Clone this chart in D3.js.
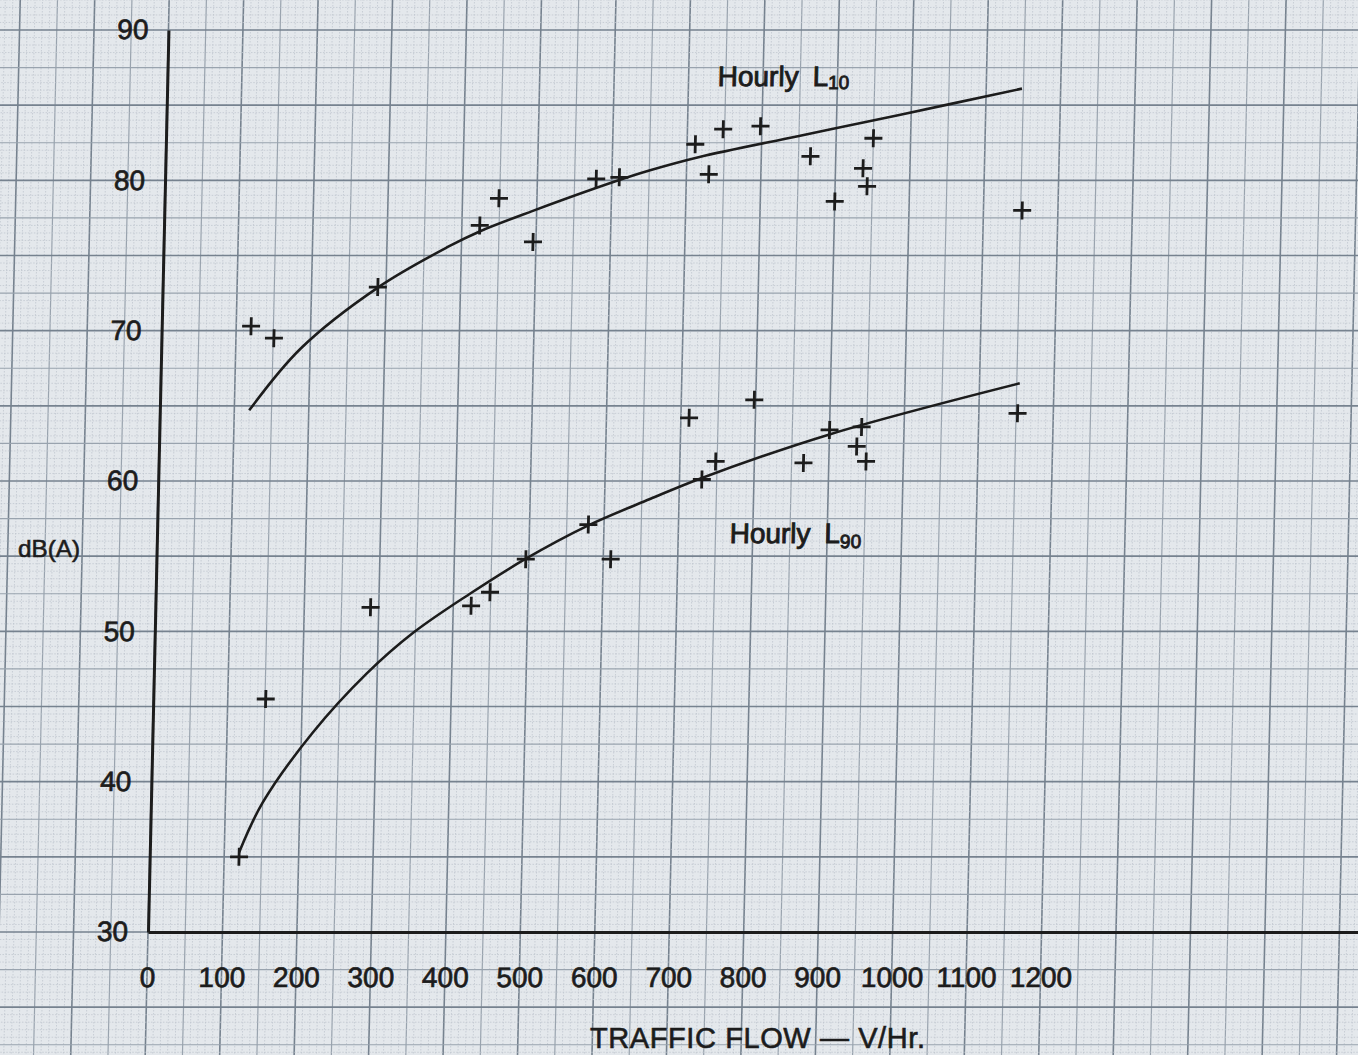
<!DOCTYPE html>
<html lang="en">
<head>
<meta charset="utf-8">
<title>Hourly L10 and L90 against traffic flow</title>
<script src="https://cdn.jsdelivr.net/npm/d3@7"></script>
<style>
  body { margin: 0; background: #e4e8ec; }
  svg { display: block; }
</style>
</head>
<body>
<script>
// traffic flow (V/Hr) of each hourly reading - both levels were read at the same flows
var flow = [120, 151, 289, 424, 449, 496, 579, 610, 711, 730, 748, 798, 866, 900, 937, 943, 950, 1152];
var hourlyL10 = [70.3, 69.5, 72.9, 77.0, 78.8, 75.9, 80.1, 80.2, 82.4, 80.4, 83.4, 83.6, 81.6, 78.6, 80.8, 79.6, 82.8, 78.0];
var hourlyL90 = [35.0, 45.5, 51.6, 51.7, 52.6, 54.8, 57.1, 54.8, 64.2, 60.1, 61.3, 65.4, 61.2, 63.4, 62.3, 63.6, 61.3, 64.5];

// the hand drawn trend curves
var l10CurveFlow = [120, 187, 290, 383, 424, 494, 606, 650, 717, 850, 984, 1148];
var l10CurveDb = [64.7, 68.8, 72.9, 75.6, 76.6, 77.95, 79.95, 80.65, 81.55, 82.95, 84.35, 86.1];
var l90CurveFlow = [120, 150, 215, 286, 347, 422, 495, 577, 661, 730, 900, 1154];
var l90CurveDb = [35.3, 38.6, 43.25, 47.2, 49.9, 52.5, 54.8, 57.0, 58.8, 60.2, 63.1, 66.5];

var xTicks = [0, 100, 200, 300, 400, 500, 600, 700, 800, 900, 1000, 1100, 1200];
var yTicks = [30, 40, 50, 60, 70, 80, 90];

var w = 1358;
var h = 1055;
var ink = "#1c1c1c";
var font = "'Liberation Sans', Arial, sans-serif";

var x = d3.scaleLinear().domain([0, 1625]).range([148, 1358]);
var y = d3.scaleLinear().domain([30, 90]).range([932, 30]);

var svg = d3.select("body").append("svg")
    .attr("width", w)
    .attr("height", h);

svg.append("rect")
    .attr("width", w)
    .attr("height", h)
    .attr("fill", "#e4e8ec");

// the photo of the sheet leans a little: the top sits right of the bottom
var sheet = svg.append("g")
    .attr("transform", "translate(0," + y(30) + ") skewX(-1.3) translate(0," + (-y(30)) + ")");

// graph paper: fine every 10 / 0.5, medium every 50 / 2.5, heavy every 100 / 5
var grid = sheet.append("g");
var vLines = d3.range(-28, 175).map(function(i) { return i * 10; });
var hLines = d3.range(40, 190).map(function(i) { return i * 0.5; });

function gridStyle(sel, isHeavy, isMedium) {
    sel.attr("stroke", function(d) { return isHeavy(d) ? "#76828f" : isMedium(d) ? "#99a3ae" : "#c0c7cf"; })
       .attr("stroke-width", function(d) { return isHeavy(d) ? 1.6 : isMedium(d) ? 1.2 : 0.8; })
       .attr("stroke-dasharray", function(d) { return (isHeavy(d) || isMedium(d)) ? null : "1.5,1.5"; });
}

grid.selectAll("line.v")
    .data(vLines)
    .enter()
    .append("line")
    .attr("class", "v")
    .attr("x1", function(d) { return x(d); })
    .attr("x2", function(d) { return x(d); })
    .attr("y1", -40)
    .attr("y2", h + 40)
    .call(gridStyle,
        function(d) { return Math.round(d) % 100 === 0; },
        function(d) { return Math.round(d) % 50 === 0; });

grid.selectAll("line.h")
    .data(hLines)
    .enter()
    .append("line")
    .attr("class", "h")
    .attr("x1", -60)
    .attr("x2", w + 60)
    .attr("y1", function(d) { return y(d); })
    .attr("y2", function(d) { return y(d); })
    .call(gridStyle,
        function(d) { return Math.round(d * 2) % 10 === 0; },
        function(d) { return Math.round(d * 2) % 5 === 0; });

// axes
var yAxis = sheet.append("g")
    .attr("transform", "translate(" + x(0) + ",0)")
    .call(d3.axisLeft(y).tickValues(yTicks).tickSize(0).tickSizeOuter(0).tickPadding(20));

var xAxis = sheet.append("g")
    .attr("transform", "translate(0," + y(30) + ")")
    .call(d3.axisBottom(x).tickValues(xTicks).tickFormat(d3.format("d"))
        .tickSize(0).tickSizeOuter(0).tickPadding(35));

[yAxis, xAxis].forEach(function(ax) {
    ax.select(".domain").attr("stroke", ink).attr("stroke-width", 3);
    ax.selectAll("text")
        .attr("font-family", font)
        .attr("font-size", 28)
        .attr("fill", ink)
        .attr("stroke", ink)
        .attr("stroke-width", 0.7);
});

// trend curves
var line = d3.line()
    .x(function(d) { return x(d[0]); })
    .y(function(d) { return y(d[1]); })
    .curve(d3.curveCatmullRom.alpha(0.5));

[[l10CurveFlow, l10CurveDb], [l90CurveFlow, l90CurveDb]].forEach(function(c) {
    sheet.append("path")
        .datum(d3.zip(c[0], c[1]))
        .attr("d", line)
        .attr("fill", "none")
        .attr("stroke", ink)
        .attr("stroke-width", 2.6);
});

// plotted readings, as + marks
[hourlyL10, hourlyL90].forEach(function(series) {
    sheet.append("g")
        .selectAll("path")
        .data(d3.zip(flow, series))
        .enter()
        .append("path")
        .attr("transform", function(d) { return "translate(" + x(d[0]) + "," + y(d[1]) + ")"; })
        .attr("d", "M-9,0H9M0,-9V9")
        .attr("stroke", ink)
        .attr("stroke-width", 2.8)
        .attr("fill", "none");
});

// curve labels
function curveLabel(atFlow, atDb, sub, subDy) {
    var t = sheet.append("text")
        .attr("x", x(atFlow))
        .attr("y", y(atDb))
        .attr("font-family", font)
        .attr("font-size", 28)
        .attr("fill", ink)
        .attr("stroke", ink)
        .attr("stroke-width", 0.9);
    t.append("tspan").text("Hourly");
    t.append("tspan").attr("dx", 14).text("L");
    t.append("tspan").attr("font-size", 19).attr("dy", subDy).text(sub);
}
curveLabel(739, 86.3, "10", 3);
curveLabel(769, 55.9, "90", 5);

// axis titles
svg.append("text")
    .attr("x", 590)
    .attr("y", 1048)
    .attr("textLength", 335)
    .attr("lengthAdjust", "spacing")
    .attr("font-family", font)
    .attr("font-size", 29)
    .attr("fill", ink)
    .attr("stroke", ink)
    .attr("stroke-width", 0.6)
    .text("TRAFFIC FLOW \u2014 V/Hr.");

svg.append("text")
    .attr("x", 18)
    .attr("y", 557)
    .attr("textLength", 62)
    .attr("lengthAdjust", "spacingAndGlyphs")
    .attr("font-family", font)
    .attr("font-size", 24)
    .attr("fill", ink)
    .attr("stroke", ink)
    .attr("stroke-width", 0.6)
    .text("dB(A)");
</script>
</body>
</html>
